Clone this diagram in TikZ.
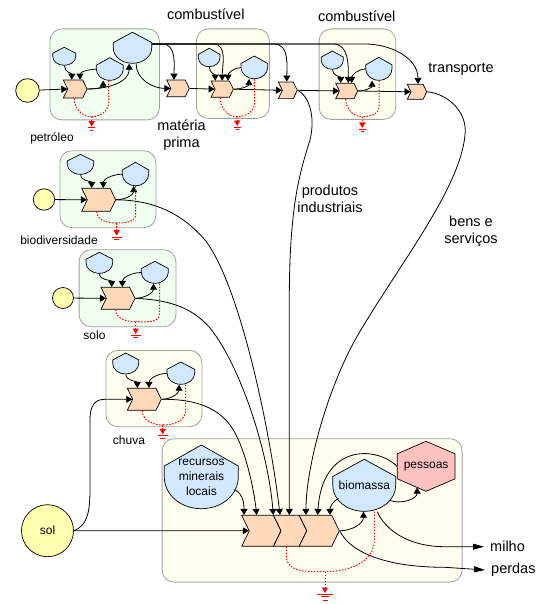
\documentclass[tikz,border=0pt]{standalone}
\usepackage{fontspec}
\setmainfont{Liberation Sans}
\usepackage{xcolor}
\usepackage{tikz}
\usetikzlibrary{arrows.meta, calc, shapes.symbols}

\definecolor{tankblue}{HTML}{D2E8FF}
\definecolor{chevorange}{HTML}{FFD9B9}
\definecolor{sunyellow}{HTML}{FFFFB0}
\definecolor{panelgreen}{HTML}{F0FFF0}
\definecolor{panelcream}{HTML}{FFFFF0}
\definecolor{panelline}{HTML}{A0A0A0}
\definecolor{peoplepink}{HTML}{FFC0C0}

% storage: name, left, top, width, height, text
\newcommand{\tank}[6]{%
  \draw[tankline, shift={(#2,#3)}, x=#4pt, y=-#5pt]
    (0.5,0) -- (1,0.33) -- (1,0.5) .. controls (1,0.78) and (0.78,1) .. (0.5,1)
    .. controls (0.22,1) and (0,0.78) .. (0,0.5) -- (0,0.33) -- cycle;
  \node[tankbox, anchor=north west, minimum width=#4pt, minimum height=#5pt] (#1) at (#2,#3) {#6};
}
% heat sink: name, x, y, bar width
\newcommand{\sink}[4]{%
  \coordinate (#1) at (#2,#3);
  \draw[sinkbar] ($(#1)+(-#4/2,1.2)$) -- ($(#1)+(#4/2,1.2)$);
  \draw[sinkbar] ($(#1)+(-#4/4,3.6)$) -- ($(#1)+(#4/4,3.6)$);
}

\begin{document}
\begin{tikzpicture}[
    x=1pt, y=-1pt,
    panel/.style={rectangle, draw=panelline, line width=0.8pt, rounded corners=12pt, anchor=north west, inner sep=0pt},
    tankline/.style={draw=black, fill=tankblue, line width=0.7pt},
    tankbox/.style={rectangle, inner sep=0pt, align=center, font=\fontsize{12}{15}\selectfont},
    chev/.style={signal, signal to=east, signal from=west, signal pointer angle=128, draw=black, fill=chevorange, line width=0.7pt, inner sep=0pt},
    source/.style={circle, draw=black, fill=sunyellow, line width=0.7pt, inner sep=0pt, font=\fontsize{12}{14}\selectfont},
    wire/.style={line width=0.8pt},
    flow/.style={wire, -{Triangle[length=6pt,width=7pt]}},
    longflow/.style={wire, -{Triangle[length=11pt,width=6pt]}},
    drain/.style={red, line width=1pt, dash pattern=on 1.5pt off 1.5pt},
    sinktip/.style={drain, -{Triangle[length=5.5pt,width=6pt]}},
    sinkbar/.style={red, line width=0.8pt},
    smalltext/.style={font=\fontsize{12}{15}\selectfont, inner sep=0pt},
    bigtext/.style={font=\fontsize{14.5}{17}\selectfont, align=center, inner sep=0pt},
]
    \useasboundingbox (0,0) rectangle (545,604);

    % Panels
    \node[panel, fill=panelgreen, minimum width=109.5pt, minimum height=91pt] (petroleo) at (49.5,28.5) {};
    \node[panel, fill=panelcream, minimum width=73pt, minimum height=89.5pt] (refino) at (196,28.5) {};
    \node[panel, fill=panelcream, minimum width=76.6pt, minimum height=90.5pt] (industria) at (318.7,28.5) {};
    \node[panel, fill=panelgreen, minimum width=96pt, minimum height=77pt] (biodiv) at (59.5,150.3) {};
    \node[panel, fill=panelgreen, minimum width=96.8pt, minimum height=77pt] (solobox) at (78.7,249.3) {};
    \node[panel, fill=panelcream, minimum width=96pt, minimum height=76.3pt] (chuvabox) at (105.5,350) {};
    \node[panel, fill=panelcream, minimum width=300pt, minimum height=143.4pt] (sistema) at (161.7,438.3) {};

    % Sources
    \node[source, minimum size=23.6pt] (s1) at (27.5,90.5) {};
    \node[source, minimum size=21.4pt] (s2) at (44,199.5) {};
    \node[source, minimum size=21pt] (s3) at (63,298) {};
    \node[source, minimum size=52pt] (sol) at (47.5,530.7) {sol};

    % Storages
    \tank{t1a}{52.7}{47.3}{23}{18}{}
    \tank{t1b}{96.3}{57.7}{27}{22.6}{}
    \tank{t1c}{113.3}{32.3}{38.4}{31}{}
    \tank{t2a}{198.3}{48.3}{21.7}{18.4}{}
    \tank{t2b}{241}{56}{26.7}{22.7}{}
    \tank{t3a}{321.3}{51}{22}{18.3}{}
    \tank{t3b}{365.7}{57.3}{26.3}{23}{}
    \tank{t4a}{67.3}{154.3}{26.4}{20}{}
    \tank{t4b}{122.3}{162.3}{26.4}{23.4}{}
    \tank{t5a}{86}{252.3}{26.7}{21}{}
    \tank{t5b}{141.3}{261.3}{27}{22}{}
    \tank{t6a}{112.7}{353}{26}{21}{}
    \tank{t6b}{167}{362}{27.7}{22.3}{}
    \tank{recursos}{164.3}{445}{74}{63.7}{recursos\\minerais\\locais}
    \tank{biomassa}{332.7}{459.3}{63}{52}{biomassa}

    % People
    \draw[fill=peoplepink, line width=0.7pt] (426,441.3) -- (455,453.8) -- (455,478.8) -- (426,491.3) -- (397.3,478.8) -- (397.3,453.8) -- cycle;
    \node[tankbox, minimum width=57.7pt, minimum height=50pt] (pessoas) at (426.1,466.3) {pessoas};

    % Interactions
    \node[chev, minimum width=23.7pt, minimum height=18pt] (c1a) at (75.2,89) {};
    \node[chev, minimum width=22.6pt, minimum height=16.7pt] (c1b) at (178,88.4) {};
    \node[chev, minimum width=22.3pt, minimum height=16.3pt] (c2a) at (222.2,89.2) {};
    \node[chev, minimum width=19pt, minimum height=16.7pt] (c2b) at (287.8,90.3) {};
    \node[chev, minimum width=22pt, minimum height=15.4pt] (c3a) at (346.7,91) {};
    \node[chev, minimum width=19.4pt, minimum height=15pt] (c3b) at (417,91.8) {};
    \node[chev, minimum width=34pt, minimum height=23pt] (c4) at (98.7,199.8) {};
    \node[chev, minimum width=34pt, minimum height=22pt] (c5) at (118,298.3) {};
    \node[chev, minimum width=34pt, minimum height=22pt] (c6) at (144.3,399.3) {};
    \node[chev, minimum width=39.3pt, minimum height=31pt] (maina) at (261.3,530.8) {};
    \node[chev, minimum width=33.2pt, minimum height=31pt] (mainb) at (290.1,530.8) {};
    \node[chev, minimum width=40.1pt, minimum height=31pt] (mainc) at (319.25,530.8) {};

    % Texts
    \node[bigtext] (comb1) at (205.8,14) {combustível};
    \node[bigtext] (comb2) at (356.7,16) {combustível};
    \node[bigtext] (transporte) at (461,69) {transporte};
    \node[bigtext] (materia) at (181.5,135) {matéria\\prima};
    \node[bigtext] (produtos) at (330,199) {produtos\\industriais};
    \node[bigtext] (bens) at (471,231.5) {bens e\\serviços};
    \node[smalltext] (lpetroleo) at (52,138) {petróleo};
    \node[smalltext] (lbiodiv) at (59,240.7) {biodiversidade};
    \node[smalltext] (lsolo) at (94.5,335) {solo};
    \node[smalltext] (lchuva) at (129,440) {chuva};
    \node[bigtext, anchor=west] (milho) at (490,546.7) {milho};
    \node[bigtext, anchor=west] (perdas) at (491,570) {perdas};

    % Petroleum panel
    \draw[flow] (s1) -- (c1a.west);
    \draw[flow] (t1a.south) to[out=-90,in=90] ([xshift=-3.5pt]c1a.north);
    \draw[flow] (t1b.west) to[out=180,in=90] ([xshift=4.8pt]c1a.north);
    \draw[flow] (c1a.east) to[out=0,in=-90] ([xshift=-6.8pt]t1b.south);
    \draw[flow] (c1a.east) to[out=0,in=-90] ([xshift=-3.5pt]t1c.south);
    \draw[flow] ([xshift=3.5pt]t1c.south) to[out=-90,in=180] (c1b.west);

    % Fuel bus
    \coordinate (bus) at ([yshift=4pt]t1c.east);
    \draw[flow] (bus) -- ++(10,0) to[out=0,in=90] ([xshift=-4pt]c1b.north);
    \draw[flow] (bus) -- ++(61,0) to[out=0,in=90] (c2a.north);
    \draw[flow] (bus) -- ++(122,0) to[out=0,in=90] ([xshift=-1pt]c2b.north);
    \draw[flow] (bus) -- ++(181,0) to[out=0,in=90] ([xshift=1.6pt]c3a.north);
    \draw[flow] (bus) -- ++(213,0) to[out=0,in=90] ([xshift=1pt]c3b.north);

    % Second and third panels
    \draw[flow] (c1b.east) -- (c2a.west);
    \draw[flow] (t2a.south) to[out=-90,in=90] ([xshift=-7pt]c2a.north);
    \draw[flow] (t2b.west) to[out=180,in=90] ([xshift=5.8pt]c2a.north);
    \draw[flow] (c2a.east) to[out=0,in=-90] ([xshift=-5.6pt]t2b.south);
    \draw[flow] (c2a.east) -- (c2b.west);
    \draw[flow] (c2b.east) -- (c3a.west);
    \draw[flow] (t3a.south) to[out=-90,in=90] ([xshift=-6pt]c3a.north);
    \draw[flow] (t3b.west) to[out=180,in=90] ([xshift=5pt]c3a.north);
    \draw[flow] (c3a.east) to[out=0,in=-90] ([xshift=-7pt]t3b.south);
    \draw[flow] (c3a.east) -- (c3b.west);

    % Lower panels
    \draw[flow] (s2) -- (c4.west);
    \draw[flow] (t4a.south) to[out=-90,in=90] ([xshift=-7pt]c4.north);
    \draw[flow] (t4b.west) to[out=180,in=90] ([xshift=4.6pt]c4.north);
    \draw[flow] (c4.east) to[out=0,in=-90] ([xshift=-2pt]t4b.south);
    \draw[flow] (s3) -- (c5.west);
    \draw[flow] (t5a.south) to[out=-90,in=90] ([xshift=-6.3pt]c5.north);
    \draw[flow] (t5b.west) to[out=180,in=90] ([xshift=4.3pt]c5.north);
    \draw[flow] (c5.east) to[out=0,in=-90] ([xshift=-1.5pt]t5b.south);
    \draw[flow] (sol.east) .. controls (86,526) and (90,515) .. (90,490) -- (90,420) .. controls (90,405) and (95,399.3) .. (105,399.3) -- (c6.west);
    \draw[flow] (t6a.south) to[out=-90,in=90] ([xshift=-7pt]c6.north);
    \draw[flow] (t6b.west) to[out=180,in=90] ([xshift=4.7pt]c6.north);
    \draw[flow] (c6.east) to[out=0,in=-90] ([xshift=-2pt]t6b.south);

    % Long lines to the main system
    \draw[flow] (c2b.east) .. controls (308,95) and (316,115) .. (310,140) .. controls (300,172) and (289.3,205) .. (289.3,300) -- ([xshift=-0.8pt]mainb.north);
    \draw[flow] (c3b.east) .. controls (445,93) and (468,110) .. (465,135) .. controls (460,190) and (395,270) .. (355,340) .. controls (325,395) and (306,470) .. ([xshift=-13.3pt]mainc.north);
    \draw[flow] (c4.east) .. controls (140,200) and (175,205) .. (205,240) .. controls (240,285) and (270,430) .. ([xshift=-10.1pt]mainb.north);
    \draw[flow] (c5.east) .. controls (165,300) and (190,305) .. (210,328) .. controls (240,365) and (268,450) .. ([xshift=12pt]maina.north);
    \draw[flow] (c6.east) .. controls (190,399) and (215,405) .. (230,425) .. controls (245,445) and (254,490) .. ([xshift=-4.6pt]maina.north);

    % Main system
    \draw[flow] (sol.east) -- (maina.west);
    \draw[flow] ([xshift=-4pt,yshift=-12.5pt]recursos.east) to[out=-30,in=90] ([xshift=-17.3pt]maina.north);
    \draw[flow] (pessoas.west) .. controls (375,445) and (322,445) .. ([xshift=-1.6pt]mainc.north);
    \draw[flow] (biomassa.south west) ++(6,-13) to[out=200,in=90] ([xshift=10.7pt]mainc.north);
    \draw[flow] (mainc.east) to[out=0,in=-90] ([xshift=-0.9pt]biomassa.south);
    \draw[flow] ([xshift=-6pt,yshift=-15pt]biomassa.east) to[out=-20,in=-90] ([xshift=-9pt,yshift=4pt]pessoas.south);
    \draw[longflow] ([xshift=13pt]biomassa.south) .. controls (381,522) and (400,546.7) .. (445,546.7) -- ([xshift=-6pt]milho.west);
    \draw[longflow] (mainc.east) .. controls (350,552) and (385,567.3) .. (445,567.3) -- ([xshift=-6pt]perdas.west);

    % Heat sinks
    \sink{g1}{91.7}{126.7}{6.5}
    \sink{g2}{237.3}{126}{6.5}
    \sink{g3}{362.3}{128}{6.5}
    \sink{g4}{116.7}{235.7}{10}
    \sink{g5}{135.7}{334}{10}
    \sink{g6}{162.7}{434.3}{10}
    \sink{g7}{325}{593}{16}
    \draw[sinkbar] ($(g7)+(-2.5,7)$) -- ($(g7)+(2.5,7)$);
    \coordinate (j1) at (91.7,116.7);
    \coordinate (j2) at (237,116.7);
    \coordinate (j3) at (362.3,116.7);
    \coordinate (j4) at (116.7,223);
    \coordinate (j5) at (135.7,321.7);
    \coordinate (j6) at (162.7,425);
    \coordinate (j7) at (325,571.7);
    \draw[drain] ([xshift=-1pt]c1a.south) to[out=-90,in=180] (j1);
    \draw[drain] ([xshift=-1.5pt]t1b.south) -- ++(0,22) to[out=-90,in=0] (j1);
    \draw[sinktip] (j1) -- (g1);
    \draw[drain] ([xshift=-2pt]c2a.south) to[out=-90,in=180] (j2);
    \draw[drain] (t2b.south) -- ++(0,24) to[out=-90,in=0] (j2);
    \draw[sinktip] (j2) -- (g2);
    \draw[drain] ([xshift=-1pt]c3a.south) to[out=-90,in=180] (j3);
    \draw[drain] (t3b.south) -- ++(0,26) to[out=-90,in=0] (j3);
    \draw[sinktip] (j3) -- (g3);
    \draw[drain] ([xshift=-2pt]c4.south) to[out=-90,in=180] (j4);
    \draw[drain] (t4b.south) -- ++(0,28) to[out=-90,in=0] (j4);
    \draw[sinktip] (j4) -- (g4);
    \draw[drain] ([xshift=-2.3pt]c5.south) to[out=-90,in=180] (j5);
    \draw[drain] ([xshift=4.5pt]t5b.south) -- ++(0,30) to[out=-90,in=0] (j5);
    \draw[sinktip] (j5) -- (g5);
    \draw[drain] ([xshift=-2pt]c6.south) to[out=-90,in=180] (j6);
    \draw[drain] ([xshift=4.5pt]t6b.south) -- ++(0,26) to[out=-90,in=0] (j6);
    \draw[sinktip] (j6) -- (g6);
    \draw[drain] ([xshift=-3.6pt]mainb.south) -- ++(0,10) to[out=-90,in=180] (j7);
    \draw[drain] ([xshift=10pt]biomassa.south) -- ++(0,28) to[out=-90,in=0] (j7);
    \draw[sinktip] (j7) -- (g7);
\end{tikzpicture}
\end{document}
